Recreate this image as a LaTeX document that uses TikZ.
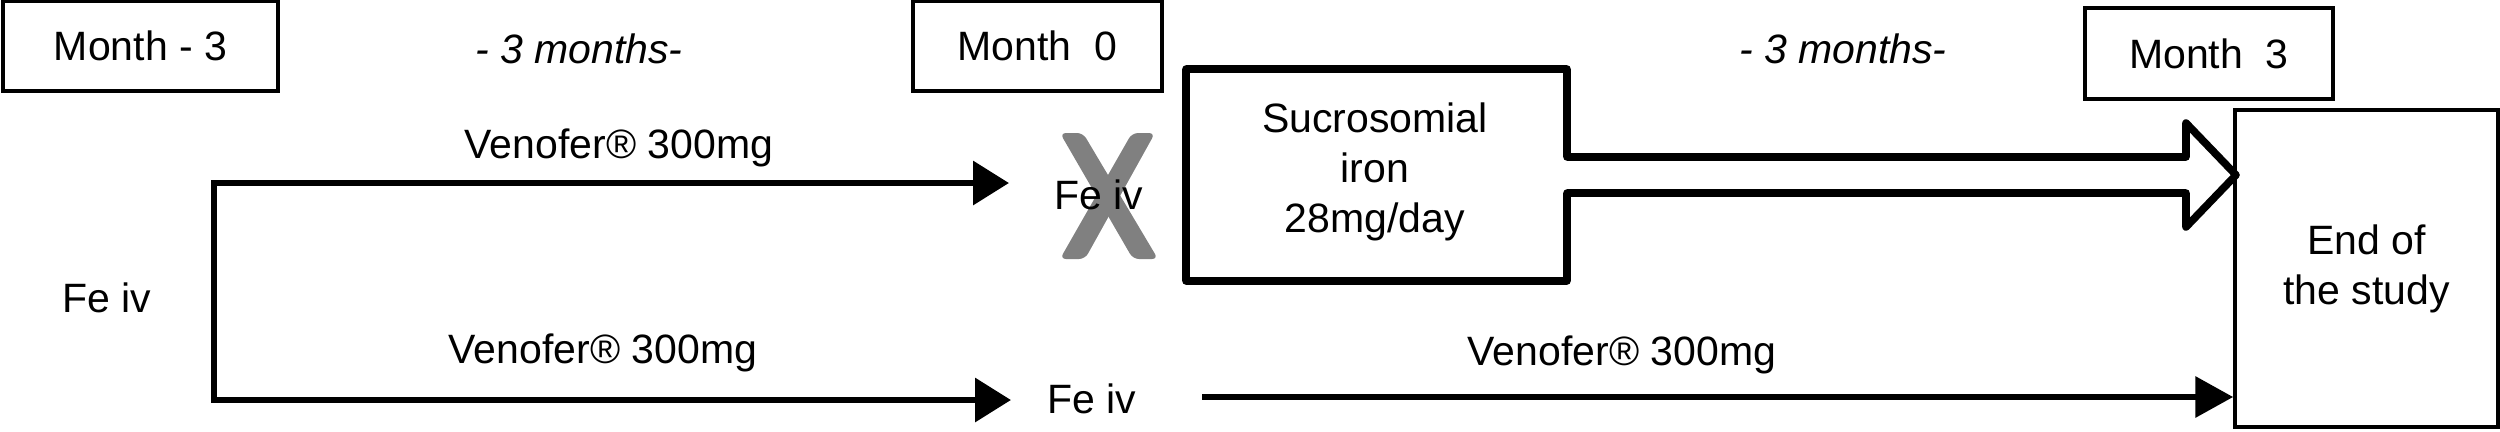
\documentclass[tikz,border=0pt]{standalone}
\usepackage{fontspec}
\setmainfont{Liberation Sans}
\usetikzlibrary{arrows.meta}
\definecolor{xgrey}{RGB}{128,128,128}
\tikzset{
  tri/.tip={Triangle[length=9pt,width=10.75pt]},
  trib/.tip={Triangle[length=9.5pt,width=10pt]}
}
\begin{document}
\begin{tikzpicture}[x=0.25pt,y=-0.25pt,
  every node/.style={font=\fontsize{10.25}{12.5}\selectfont, inner sep=0pt},
  thinbox/.style={draw, line width=0.875pt, align=center},
  flow/.style={line width=1.65pt, line join=miter},
  fat/.style={line width=1.9pt, line join=round},
  lbl/.style={anchor=base},
  ]
\useasboundingbox (0,0) rectangle (2500,431);

% time-point boxes
\node[thinbox, minimum width=68.75pt, minimum height=22.5pt] (m3) at (140.5,46) {Month - 3};
\node[thinbox, minimum width=62.25pt, minimum height=22.5pt] (m0) at (1037.5,46) {Month\ \ 0};
\node[thinbox, minimum width=62pt, minimum height=22.75pt] (mp3) at (2209,53.5) {Month\ \ 3};
\node[thinbox, minimum width=65.75pt, minimum height=79.25pt] (endbox) at (2366.5,268.5) {End of\\the study};

% period labels
\node[lbl, font=\fontsize{10.25}{12.5}\selectfont\itshape] (p1) at (579,63) {- 3 months-};
\node[lbl, font=\fontsize{10.25}{12.5}\selectfont\itshape] (p2) at (1843,63) {- 3 months-};

% grey cross
\fill[xgrey, rounded corners=1.5pt] (1060,133) -- (1083,133) -- (1158,259) -- (1133,259) -- cycle;
\fill[xgrey, rounded corners=1.5pt] (1132,133) -- (1155,133) -- (1085,259) -- (1060,259) -- cycle;

% labels
\node[lbl] (feiv0) at (107,312) {Fe iv};
\node[lbl] (feiv1) at (1099,209) {Fe iv};
\node[lbl] (feiv2) at (1092,413) {Fe iv};
\node[lbl] (ven1) at (619,158) {Venofer® 300mg};
\node[lbl] (ven2) at (603,363) {Venofer® 300mg};
\node[lbl] (ven3) at (1622,365) {Venofer® 300mg};

% sucrosomial iron box with fat arrow
\node[align=center] (suc) at (1375,171.5) {Sucrosomial\\iron\\28mg/day};
\draw[fat] (1186,69) -- (1567,69) -- (1567,157) -- (2186,157) -- (2186,123)
  -- (2236,175) -- (2186,227) -- (2186,193) -- (1567,193) -- (1567,281)
  -- (1186,281) -- cycle;

% Venofer arrows (first period)
\coordinate (t1) at (1009,183);
\coordinate (lt) at (214,183);
\coordinate (lb) at (214,400);
\coordinate (t2) at (1011,400);
\draw[flow, {tri}-{tri}] (t1) -- (lt) -- (lb) -- (t2);

% Venofer arrow (second period)
\coordinate (s3) at (1202,397);
\draw[flow, -{trib}] (s3) -- (endbox.west |- s3);
\end{tikzpicture}
\end{document}
